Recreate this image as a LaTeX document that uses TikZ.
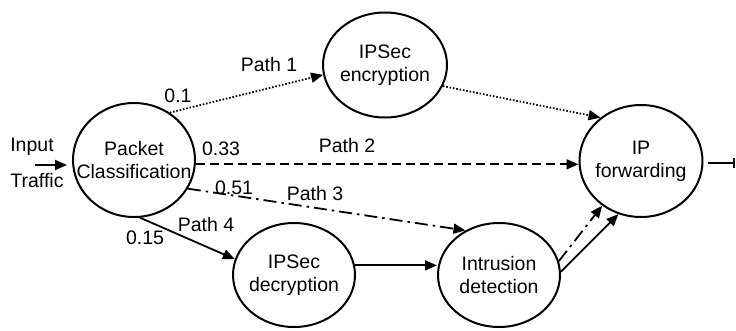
\documentclass[tikz,border=0pt]{standalone}
\usepackage{fontspec}
\setmainfont{Liberation Sans}
\usetikzlibrary{shapes.geometric,arrows.meta,calc}
\begin{document}
\begin{tikzpicture}[x=1pt,y=-1pt,
  lbl/.style={font=\fontsize{19.5}{23}\selectfont,inner sep=0pt,align=center},
  st/.style={ellipse,draw,line width=2pt,inner sep=0pt},
  arr/.style={line width=1.8pt,-{Triangle[length=12pt,width=10pt]}},
  dotl/.style={arr,dash pattern=on 1.6pt off 1.8pt},
  dashl/.style={arr,dash pattern=on 9pt off 5pt},
  dashdotl/.style={arr,dash pattern=on 13pt off 5pt on 2.5pt off 5pt},
]
\useasboundingbox (0,0) rectangle (736,330);
\node[st,minimum width=122pt,minimum height=114pt,label={[lbl]center:Packet\\Classification}] (pc) at (134,160) {};
\node[st,minimum width=124pt,minimum height=105pt,label={[lbl]center:IPSec\\encryption}] (enc) at (385,65) {};
\node[st,minimum width=123pt,minimum height=112pt,label={[lbl]center:IP\\forwarding}] (ipf) at (641,161) {};
\node[st,minimum width=122pt,minimum height=104pt,label={[lbl]center:IPSec\\decryption}] (dec) at (294,275) {};
\node[st,minimum width=122pt,minimum height=104pt,label={[lbl]center:Intrusion\\detection}] (ids) at (499,275) {};

\node[lbl] (tin) at (32,147) {Input};
\node[lbl] (ttr) at (37,181) {Traffic};
\coordinate (in) at (35,165);
\draw[arr] (in) -- ($(pc.west |- in)+(-5,0)$);

\coordinate (out) at (736,163);
\draw[line width=1.8pt,-{Bar[width=10pt,line width=1.8pt]}] (ipf.east |- out) ++(4,0) -- ($(out)+(-1,0)$);

\draw[dotl] (pc.53) -- (enc.189);
\draw[dotl] (enc.-20) -- (ipf.133);
\draw[dashl] (pc.-4) -- (pc.-4 -| ipf.west);
\draw[dashdotl] (pc.-28) -- (ids.127);
\draw[arr] (pc.-84) -- (dec.165);
\draw[arr] (dec.9) -- (dec.9 -| ids.west);
\draw[dashdotl] (ids.13) -- (ipf.229);
\draw[arr] (ids.3) -- (ipf.247);

\node[lbl] (l01) at (178,96) {0.1};
\node[lbl] (p1) at (269,65) {Path 1};
\node[lbl] (l033) at (221,149) {0.33};
\node[lbl] (p2) at (347,146) {Path 2};
\node[lbl] (l051) at (234,188) {0.51};
\node[lbl] (p3) at (315,194) {Path 3};
\node[lbl] (p4) at (206,225) {Path 4};
\node[lbl] (l015) at (145,238) {0.15};
\end{tikzpicture}
\end{document}
